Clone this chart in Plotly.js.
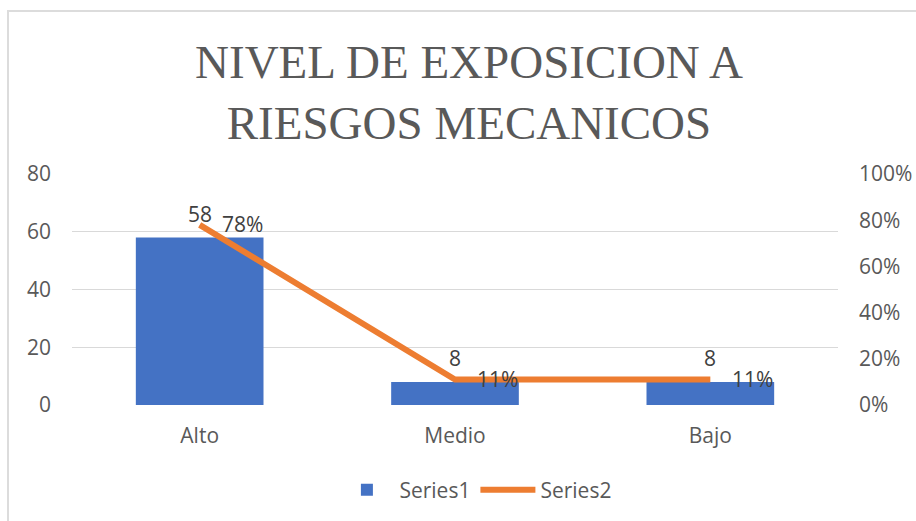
<!DOCTYPE html>
<html>
<head>
<meta charset="utf-8">
<script src="https://cdn.plot.ly/plotly-3.0.1.min.js"></script>
<style>
html,body{margin:0;padding:0;background:#fff;overflow:hidden;}
#chart{width:916px;height:521px;position:absolute;left:0;top:0;}
#frame{position:absolute;left:7px;top:10px;width:1000px;height:600px;border:2px solid #dcdcdc;pointer-events:none;}
</style>
</head>
<body>
<div id="chart"></div>
<div id="frame"></div>
<script>
var categories = ["Alto", "Medio", "Bajo"];
var series1 = [58, 8, 8];
var series2 = [0.78, 0.11, 0.11];
var series2Labels = ["78%", "11%", "11%"];
var leftTicks = [0, 20, 40, 60, 80];
var rightTicks = [0, 0.2, 0.4, 0.6, 0.8, 1.0];

var FONT = "Open Sans, Lato, sans-serif";
var GREY = "#595959";

var traces = [
  {
    type: "bar",
    name: "Series1",
    x: categories,
    y: series1,
    marker: {color: "#4472C4"},
    hoverinfo: "skip"
  },
  {
    type: "scatter",
    mode: "lines",
    name: "Series2",
    x: categories,
    y: series2,
    yaxis: "y2",
    line: {color: "#ED7D31", width: 6},
    hoverinfo: "skip"
  }
];

var annotations = [];
categories.forEach(function (c, i) {
  annotations.push({
    x: c, y: series1[i], xref: "x", yref: "y",
    text: String(series1[i]), showarrow: false,
    yanchor: "middle", xanchor: "center", yshift: 24,
    font: {family: FONT, size: 21, color: "#404040"}
  });
  annotations.push({
    x: c, y: series2[i], xref: "x", yref: "y2",
    text: series2Labels[i], showarrow: false,
    yanchor: "middle", xanchor: "left", xshift: 20, yshift: 1,
    font: {family: FONT, size: 21, color: "#404040"}
  });
});

var layout = {
  width: 916, height: 521,
  margin: {l: 72, r: 78, t: 174, b: 116},
  paper_bgcolor: "#ffffff", plot_bgcolor: "#ffffff",
  title: {
    text: "NIVEL DE EXPOSICION A<br>RIESGOS MECANICOS",
    font: {family: "Liberation Serif, Times New Roman, serif", size: 47, color: GREY},
    xref: "container", x: 0.512, xanchor: "center",
    yref: "container", y: 1 - 78/521, yanchor: "top"
  },
  bargap: 0.5,
  showlegend: true,
  legend: {
    orientation: "h",
    xref: "container", x: 0.519, xanchor: "center",
    yref: "container", y: 1 - 490/521, yanchor: "middle",
    font: {family: FONT, size: 21, color: GREY},
    itemwidth: 55,
    tracegroupgap: 0
  },
  xaxis: {
    type: "category",
    tickfont: {family: FONT, size: 21, color: GREY},
    showgrid: false, zeroline: false, showline: false,
    ticks: "", ticklabelstandoff: 16
  },
  yaxis: {
    range: [0, 80],
    tickvals: leftTicks,
    tickfont: {family: FONT, size: 21, color: GREY},
    showgrid: true, gridcolor: "#d9d9d9", gridwidth: 1,
    zeroline: false, showline: false, ticks: "",
    ticklabelstandoff: 20
  },
  yaxis2: {
    range: [0, 1],
    overlaying: "y", side: "right",
    tickvals: rightTicks,
    tickformat: ".0%",
    tickfont: {family: FONT, size: 21, color: GREY},
    showgrid: false, zeroline: false, showline: false, ticks: "",
    ticklabelstandoff: 20
  },
  annotations: annotations
};

Plotly.newPlot("chart", traces, layout, {displayModeBar: false, staticPlot: true});
</script>
</body>
</html>
